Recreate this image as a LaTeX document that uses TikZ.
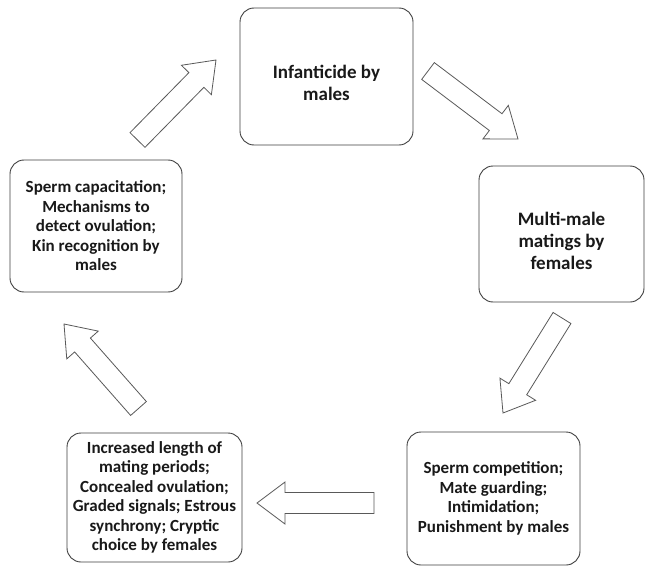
\documentclass[tikz,border=0pt]{standalone}
\usepackage{fontspec}
\setmainfont{Carlito}
\usetikzlibrary{calc}
\tikzset{
  cyclebox/.style={draw=black!75, line width=0.9pt, rounded corners=14pt, fill=white,
    align=center, inner sep=0pt, text=black!90,
    font=\fontsize{17}{19.5}\selectfont\bfseries},
  bigbox/.style={cyclebox, font=\fontsize{19}{22}\selectfont\bfseries},
  blockline/.style={draw=black!65, line width=0.8pt, fill=white, line join=miter},
}
\newcommand\blockarr[2]{%
  \coordinate (#1-n) at ($(#2)!28pt!(#1)$);
  \draw[blockline] ($(#1)!10.5pt!90:(#2)$) -- ($(#1-n)!10.5pt!90:(#2)$)
    -- ($(#1-n)!21pt!90:(#2)$) -- (#2) -- ($(#1-n)!21pt!-90:(#2)$)
    -- ($(#1-n)!10.5pt!-90:(#2)$) -- ($(#1)!10.5pt!-90:(#2)$) -- cycle;
}
\begin{document}
\begin{tikzpicture}[x=1pt, y=-1pt]
\useasboundingbox (0,0) rectangle (645,567);
\fill[white] (0,0) rectangle (645,567);

\node[bigbox, minimum width=173pt, minimum height=137pt] (inf) at (326.5,76.5)
  {\rule{0pt}{27pt}Infanticide by\\males};
\node[bigbox, minimum width=165pt, minimum height=136pt] (multi) at (561.5,234)
  {\rule{0pt}{27pt}Multi-male\\matings by\\females};
\node[cyclebox, minimum width=173pt, minimum height=133pt] (comp) at (493.5,498.5)
  {Sperm competition;\\Mate guarding;\\Intimidation;\\Punishment by males};
\node[cyclebox, minimum width=175pt, minimum height=129pt] (incr) at (154.5,497.5)
  {Increased length of\\mating periods;\\Concealed ovulation;\\Graded signals; Estrous\\synchrony; Cryptic\\choice by females};
\node[cyclebox, minimum width=172pt, minimum height=132pt] (cap) at (96,226)
  {Sperm capacitation;\\Mechanisms to\\detect ovulation;\\Kin recognition by\\males};

\coordinate (aAt) at (137.5,140); \coordinate (aAh) at (216,60);
\coordinate (aBt) at (428,71);    \coordinate (aBh) at (518,139);
\coordinate (aCt) at (562,318);   \coordinate (aCh) at (503,413);
\coordinate (aDt) at (374,503);   \coordinate (aDh) at (257,503);
\coordinate (aEt) at (138.5,408.5); \coordinate (aEh) at (64,324);

\blockarr{aAt}{aAh}
\blockarr{aBt}{aBh}
\blockarr{aCt}{aCh}
\blockarr{aDt}{aDh}
\blockarr{aEt}{aEh}
\end{tikzpicture}
\end{document}
